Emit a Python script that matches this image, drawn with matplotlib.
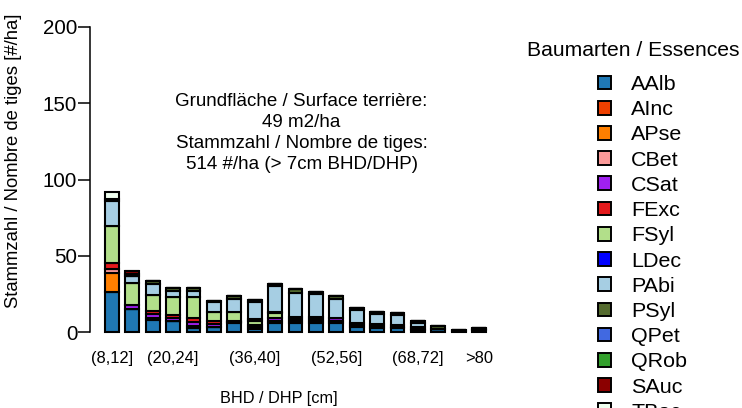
import matplotlib
matplotlib.use("Agg")
import matplotlib.pyplot as plt
from matplotlib.patches import Patch
import numpy as np

plt.rcParams["font.family"] = ["Liberation Sans", "DejaVu Sans"]

# diameter classes (BHD / DHP)
bins = ["(8,12]", "(12,16]", "(16,20]", "(20,24]", "(24,28]", "(28,32]", "(32,36]",
        "(36,40]", "(40,44]", "(44,48]", "(48,52]", "(52,56]", "(56,60]", "(60,64]",
        "(64,68]", "(68,72]", "(72,76]", "(76,80]", ">80"]
shown_bins = ["(8,12]", "(20,24]", "(36,40]", "(52,56]", "(68,72]", ">80"]

species = ["AAlb", "AInc", "APse", "CBet", "CSat", "FExc", "FSyl", "LDec",
           "PAbi", "PSyl", "QPet", "QRob", "SAuc", "TBac"]
colors = ["#1F78B4", "#EE4000", "#FF7F00", "#FB9A99", "#A020F0", "#E31A1C", "#B2DF8A",
          "#0000FF", "#A6CEE3", "#556B2F", "#4169E1", "#33A02C", "#8B0000", "#F0FFF0"]

# stems per ha by species and diameter class
AAlb = [26.5, 15, 8, 7.4, 2.4, 3, 5.7, 1.7, 6.1, 5.7, 6.1, 5.7, 3.5, 2.8, 2.5, 1.5, 2, 0.8, 1]
AInc = [0, 0, 1.5, 0, 0, 0, 0.8, 1.4, 1.4, 1.3, 1.2, 1.6, 1.3, 1.1, 1.0, 0.7, 0, 0, 0]
APse = [12, 0, 0, 0, 1.6, 0, 0, 0, 0, 0, 0, 0, 0, 0, 0, 0, 0, 0, 0]
CBet = [3, 0, 0, 0, 0, 0, 0, 0, 0, 0, 0, 0, 0, 0, 0, 0, 0, 0, 0]
CSat = [0, 2.4, 2.5, 2.0, 2.6, 2.4, 0.9, 1.4, 1.4, 1.3, 1.2, 1.7, 1.3, 1.1, 1.0, 0.8, 0, 0, 0]
FExc = [4, 0, 1.5, 1.7, 2.4, 2.0, 0, 0, 0, 0, 0, 0, 0, 0, 0, 0, 0, 0, 0]
FSyl = [24, 14.5, 10.9, 11.6, 14.2, 5.5, 5.7, 2.8, 3.3, 1.3, 1.3, 0, 0, 0, 0, 0, 0, 0, 0]
LDec = [0, 0, 0, 0, 0, 0, 0, 0.9, 0.9, 0.5, 0, 0, 0, 0, 0, 0, 0, 0, 0]
PAbi = [16.5, 4.8, 7, 4.2, 3.7, 6.6, 8.3, 11.6, 17, 15.7, 14.9, 12.5, 8.3, 6.8, 6.7, 3, 0, 0, 0.7]
PSyl = [1.5, 0, 2.2, 1.7, 1.7, 0.8, 2.2, 1.2, 1.2, 2.2, 1.3, 2.2, 1.1, 1.1, 1.0, 1.5, 1.7, 0.7, 0.7]
QPet = [0] * 19
QRob = [0, 1.5, 0, 0, 0, 0, 0, 0, 0, 0, 0, 0, 0, 0, 0, 0, 0, 0, 0]
SAuc = [0, 1.8, 0, 0, 0, 0, 0, 0, 0, 0, 0, 0, 0, 0, 0, 0, 0, 0, 0]
TBac = [4.5, 0, 0, 0, 0, 0, 0, 0, 0, 0, 0, 0, 0, 0, 0, 0, 0, 0, 0]
values = [AAlb, AInc, APse, CBet, CSat, FExc, FSyl, LDec, PAbi, PSyl, QPet, QRob, SAuc, TBac]

basal_area = "49 m2/ha"
stem_count = "514 #/ha (> 7cm BHD/DHP)"

W, H = 742, 408
fig = plt.figure(figsize=(W / 100, H / 100), dpi=100)


def fx(px):
    return px / W


def fy(py):
    return 1 - py / H


def pt(px):
    return px * 0.72


ax = fig.add_axes([fx(90), fy(332), fx(501) - fx(90), fy(27) - fy(332)])

x = np.arange(len(bins))
bottom = np.zeros(len(bins))
for name, col, vals in zip(species, colors, values):
    v = np.array(vals, dtype=float)
    ax.bar(x, v, 0.68, bottom=bottom, color=col, edgecolor="black",
           linewidth=1.5, clip_on=False)
    bottom += v

ax.set_xlim(-1.08, len(bins) - 1 + 1.08)
ax.set_ylim(0, 200)
ax.set_yticks([0, 50, 100, 150, 200])
ax.set_xticks([bins.index(b) for b in shown_bins])
ax.set_xticklabels(shown_bins)
for s in ["top", "right", "bottom"]:
    ax.spines[s].set_visible(False)
ax.spines["left"].set_bounds(0, 200)
ax.spines["left"].set_linewidth(1.1)
ax.tick_params(axis="y", length=pt(12), width=1.1, labelsize=pt(20.5), pad=0.5)
ax.tick_params(axis="x", length=0, labelsize=pt(16.5), pad=pt(19))

fig.text(fx(14), fy(161), "Stammzahl / Nombre de tiges [#/ha]", rotation=90,
         ha="center", va="center", fontsize=pt(18.5))
fig.text(fx(279), fy(398), "BHD / DHP [cm]", ha="center", va="center", fontsize=pt(16.2))

ax.text(0.515, (332 - 133) / 305,
        "Grundfläche / Surface terrière:\n" + basal_area + "\nStammzahl / Nombre de tiges:\n" + stem_count,
        transform=ax.transAxes, ha="center", va="center", fontsize=pt(18.8), linespacing=1.29)

fig.text(fx(527), fy(50), "Baumarten / Essences", ha="left", va="center", fontsize=pt(21.2))
handles = [Patch(facecolor=c, edgecolor="black", linewidth=1.4) for c in colors]
fs = 21.5
fig.legend(handles, species, loc="upper left", bbox_to_anchor=(fx(598), fy(75)),
           frameon=False, fontsize=pt(fs), handlelength=13 / fs, handleheight=13 / fs,
           handletextpad=20 / fs, labelspacing=(25.7 - 0.906 * fs) / fs,
           borderpad=0, borderaxespad=0)

fig.savefig("out.png", dpi=100)
